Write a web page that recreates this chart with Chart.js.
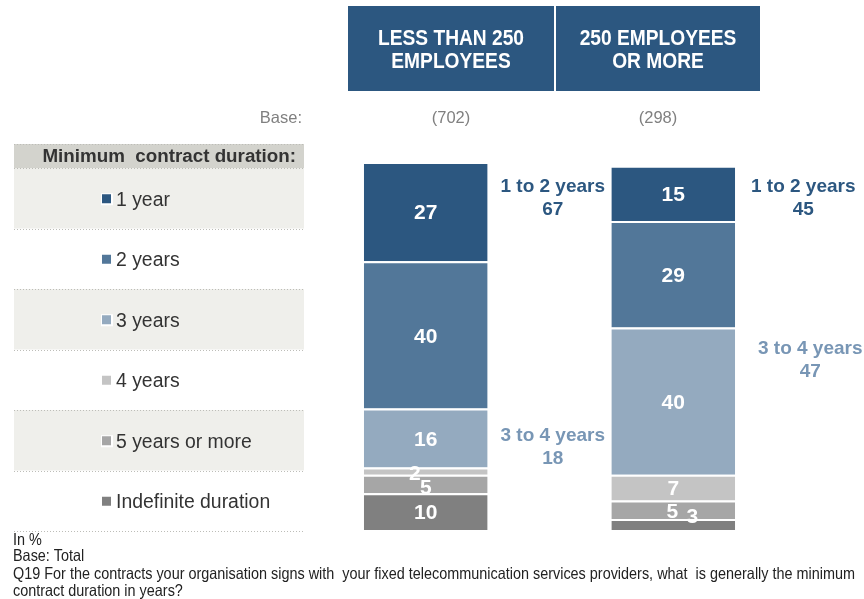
<!DOCTYPE html>
<html>
<head>
<meta charset="utf-8">
<script src="https://cdn.jsdelivr.net/npm/chart.js@4"></script>
<style>
  html, body { margin: 0; padding: 0; background: #fff; }
  #wrap { position: relative; width: 864px; height: 599px; }
</style>
</head>
<body>
<div id="wrap"><canvas id="chart" width="864" height="599"></canvas></div>
<script>
// company size groups and their bases
const groups = ["LESS THAN 250|EMPLOYEES", "250 EMPLOYEES|OR MORE"];
const bases = ["(702)", "(298)"];

// minimum contract duration, in % of each group
const durations = ["1 year", "2 years", "3 years", "4 years", "5 years or more", "Indefinite duration"];
const oneYear = [27, 15];
const twoYears = [40, 29];
const threeYears = [16, 40];
const fourYears = [2, 7];
const fiveYears = [5, 5];
const indefinite = [10, 3];

// grouped totals written beside the bars
const shortTotals = ["67", "45"];   // 1 to 2 years
const midTotals = ["18", "47"];     // 3 to 4 years

const colors = ["#2C5780", "#527799", "#94AABF", "#C4C4C4", "#A6A6A6", "#808080"];
const series = [oneYear, twoYears, threeYears, fourYears, fiveYears, indefinite];

const SANS = '"Liberation Sans", Arial, sans-serif';

// nudges for the crowded value labels at the bottom of the bars, by duration: [bar] = [dx, dy]
const labelNudge = {
  "4 years": { 0: [-11, 1], 1: [0, 0] },
  "5 years or more": { 0: [0, 2], 1: [-1, 0] },
  "Indefinite duration": { 1: [19, -9] }
};

// text squeezed horizontally, for the narrow header / footnote type
function narrowText(ctx, text, x, y, sx) {
  ctx.save();
  ctx.translate(x, y);
  ctx.scale(sx, 1);
  ctx.fillText(text, 0, 0);
  ctx.restore();
}

const pageDecor = {
  id: "pageDecor",
  beforeDraw(chart) {
    const ctx = chart.ctx;
    ctx.save();

    // header boxes
    const boxes = [[348, 554], [556, 760]];
    ctx.fillStyle = "#2C5780";
    boxes.forEach(b => ctx.fillRect(b[0], 6, b[1] - b[0], 85));
    ctx.fillStyle = "#fff";
    ctx.font = "bold 22px " + SANS;
    ctx.textAlign = "center";
    ctx.textBaseline = "middle";
    const hsx = 146 / ctx.measureText("LESS THAN 250").width;
    groups.forEach((g, i) => {
      const cx = (boxes[i][0] + boxes[i][1]) / 2;
      g.split("|").forEach((line, j) => narrowText(ctx, line, cx, 39 + j * 23, hsx));
    });

    // base row
    ctx.fillStyle = "#808080";
    ctx.font = "16.5px " + SANS;
    ctx.textAlign = "right";
    ctx.fillText("Base:", 302, 118);
    ctx.textAlign = "center";
    bases.forEach((b, i) => {
      const cx = (boxes[i][0] + boxes[i][1]) / 2;
      ctx.fillText(b, cx, 118);
    });

    // legend panel
    const left = 14, right = 304;
    ctx.fillStyle = "#D3D3CD";
    ctx.fillRect(left, 144, right - left, 24);
    const rowTop = 168, rowH = 60.5;
    durations.forEach((d, i) => {
      if (i % 2 === 0) {
        ctx.fillStyle = "#EFEFEB";
        ctx.fillRect(left, rowTop + i * rowH, right - left, rowH);
      }
    });
    ctx.strokeStyle = "#BDBDB8";
    ctx.lineWidth = 1;
    ctx.setLineDash([1, 2]);
    for (let i = 0; i <= durations.length; i++) {
      const y = Math.round(rowTop + i * rowH) + 0.5;
      ctx.beginPath(); ctx.moveTo(left, y); ctx.lineTo(right, y); ctx.stroke();
    }
    ctx.beginPath(); ctx.moveTo(left, 144.5); ctx.lineTo(right, 144.5); ctx.stroke();
    ctx.setLineDash([]);

    ctx.fillStyle = "#333";
    ctx.font = "bold 18.8px " + SANS;
    ctx.textAlign = "right";
    ctx.fillText("Minimum  contract duration:", 296, 157);

    ctx.font = "19.4px " + SANS;
    ctx.textAlign = "left";
    durations.forEach((d, i) => {
      const cy = rowTop + i * rowH + rowH / 2 + 1;
      ctx.fillStyle = "#fff";
      ctx.fillRect(101, cy - 6, 12, 12);
      ctx.fillStyle = colors[i];
      ctx.fillRect(102, cy - 5, 9, 9);
      ctx.fillStyle = "#333";
      ctx.fillText(d, 116, cy + 1);
    });

    // footnotes
    const notes = [
      "In %",
      "Base: Total",
      "Q19 For the contracts your organisation signs with  your fixed telecommunication services providers, what  is generally the minimum",
      "contract duration in years?"
    ];
    ctx.fillStyle = "#222";
    ctx.font = "16.5px " + SANS;
    ctx.textAlign = "left";
    const fsx = 842 / ctx.measureText(notes[2]).width;
    [540, 556, 574, 591].forEach((y, i) => narrowText(ctx, notes[i], 13, y, fsx));
    ctx.restore();
  },
  afterDatasetsDraw(chart) {
    const ctx = chart.ctx;
    ctx.save();
    ctx.textAlign = "center";
    ctx.textBaseline = "middle";

    // values inside the segments
    ctx.fillStyle = "#fff";
    ctx.font = "bold 21px " + SANS;
    chart.data.datasets.forEach((ds, i) => {
      chart.getDatasetMeta(i).data.forEach((bar, j) => {
        const n = (labelNudge[ds.label] && labelNudge[ds.label][j]) || [0, 0];
        const cy = (bar.y + bar.base) / 2;
        ctx.fillText(String(ds.data[j]), bar.x + n[0], cy + n[1] + 2);
      });
    });

    // grouped totals beside each bar
    const metaOf = label => chart.getDatasetMeta(chart.data.datasets.findIndex(d => d.label === label)).data;
    const m1 = metaOf("1 year");
    const m3 = metaOf("3 years");
    ctx.font = "bold 19px " + SANS;
    const notes = [
      { text: "1 to 2 years", total: shortTotals[0], color: "#2C5780", x: m1[0].x + 127, y: m1[0].y + 25 },
      { text: "3 to 4 years", total: midTotals[0], color: "#7896B5", x: m1[0].x + 127, y: (m3[0].y + m3[0].base) / 2 - 2 },
      { text: "1 to 2 years", total: shortTotals[1], color: "#2C5780", x: m1[1].x + 130, y: m1[1].y + 21 },
      { text: "3 to 4 years", total: midTotals[1], color: "#7896B5", x: m1[1].x + 137, y: m3[1].y + 21 }
    ];
    notes.forEach(n => {
      ctx.fillStyle = n.color;
      ctx.fillText(n.text, n.x, n.y);
      ctx.fillText(n.total, n.x, n.y + 23);
    });
    ctx.restore();
  }
};

// stacked from the bottom: indefinite first, 1 year on top
const order = [5, 4, 3, 2, 1, 0];

new Chart(document.getElementById("chart").getContext("2d"), {
  type: "bar",
  data: {
    labels: groups,
    datasets: order.map(i => ({
      label: durations[i],
      data: series[i],
      backgroundColor: colors[i],
      borderColor: "#fff",
      borderWidth: { top: 2, bottom: 0, left: 0, right: 0 },
      borderSkipped: false,
      barPercentage: 0.5,
      categoryPercentage: 1
    }))
  },
  options: {
    responsive: false,
    animation: false,
    layout: { padding: { left: 302, right: 67, top: 162, bottom: 69 } },
    plugins: { legend: { display: false }, tooltip: { enabled: false } },
    scales: {
      x: { stacked: true, display: false },
      y: { stacked: true, display: false, min: 0, max: 100 }
    }
  },
  plugins: [pageDecor]
});
</script>
</body>
</html>
